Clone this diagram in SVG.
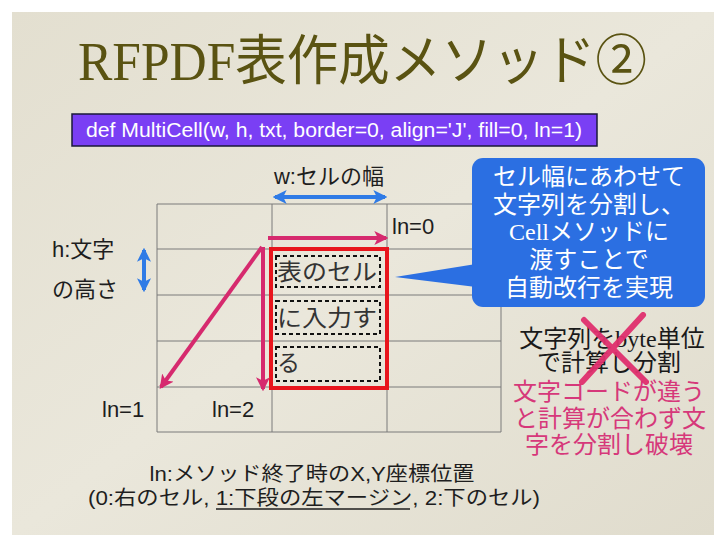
<svg xmlns="http://www.w3.org/2000/svg" width="728" height="546" viewBox="0 0 728 546">
<defs>
<style>
.sans{font-family:"Liberation Sans","Noto Sans CJK JP",sans-serif;}
.serif{font-family:"Liberation Serif","Noto Sans CJK JP",serif;}
.grid line{stroke:#7a7a7a;stroke-width:1;}
.pink{stroke:#d62a6e;stroke-width:4;fill:none;}
.blue{stroke:#2f7be6;stroke-width:4;fill:none;}
.dash{fill:none;stroke:#111;stroke-width:2;stroke-dasharray:4,3;}
.lbl{font-size:22px;fill:#1e1e1e;}
.cell{font-size:23px;fill:#333;}
</style>
<marker id="ph" viewBox="0 0 12 12" refX="10" refY="6" markerWidth="14" markerHeight="14" markerUnits="userSpaceOnUse" orient="auto">
<path d="M0,0 L12,6 L0,12 L3,6 z" fill="#d62a6e"/>
</marker>
<marker id="bh" viewBox="0 0 12 12" refX="10" refY="6" markerWidth="14" markerHeight="14" markerUnits="userSpaceOnUse" orient="auto-start-reverse">
<path d="M0,0 L12,6 L0,12 L3,6 z" fill="#2f7be6"/>
</marker>
<linearGradient id="paper" x1="0" y1="0" x2="1" y2="1">
<stop offset="0" stop-color="#e3dfd0"/>
<stop offset="0.5" stop-color="#eae7db"/>
<stop offset="1" stop-color="#e0dccd"/>
</linearGradient>
</defs>
<rect x="0" y="0" width="728" height="546" fill="#ffffff"/>
<rect x="12" y="12" width="702" height="523" fill="url(#paper)"/>

<g id="title">
<text class="serif" x="78" y="80" font-size="54" fill="#5a5312" textLength="569" lengthAdjust="spacingAndGlyphs">RFPDF表作成メソッド②</text>
</g>

<g id="code">
<rect x="72" y="114" width="525" height="32" fill="#7a3ff4" stroke="#1a1a3a" stroke-width="1.5"/>
<text class="sans" x="86" y="137" font-size="20" fill="#ffffff" textLength="496" lengthAdjust="spacingAndGlyphs">def MultiCell(w, h, txt, border=0, align='J', fill=0, ln=1)</text>
</g>

<g id="grid" class="grid">
<line x1="157" y1="204" x2="501" y2="204"/>
<line x1="157" y1="249" x2="501" y2="249"/>
<line x1="157" y1="295" x2="501" y2="295"/>
<line x1="157" y1="341" x2="501" y2="341"/>
<line x1="157" y1="387" x2="501" y2="387"/>
<line x1="157" y1="432" x2="501" y2="432"/>
<line x1="157" y1="204" x2="157" y2="432"/>
<line x1="272" y1="204" x2="272" y2="432"/>
<line x1="387" y1="204" x2="387" y2="432"/>
<line x1="501" y1="204" x2="501" y2="432"/>
</g>

<g id="cellbox">
<rect x="271" y="249" width="116" height="139" fill="none" stroke="#e8151d" stroke-width="4"/>
<rect x="276" y="256" width="104" height="31" class="dash"/>
<rect x="276" y="301" width="104" height="33" class="dash"/>
<rect x="276" y="347" width="104" height="34" class="dash"/>
<text class="serif cell" x="277" y="280" textLength="100" lengthAdjust="spacingAndGlyphs">表のセル</text>
<text class="serif cell" x="277" y="326" textLength="100" lengthAdjust="spacingAndGlyphs">に入力す</text>
<text class="serif cell" x="277" y="371">る</text>
</g>

<g id="labels">
<text class="sans lbl" x="329" y="184" text-anchor="middle">w:セルの幅</text>
<text class="sans lbl" x="392" y="234">ln=0</text>
<text class="sans lbl" x="52" y="257">h:文字</text>
<text class="sans lbl" x="52" y="297">の高さ</text>
<text class="sans lbl" x="102" y="417">ln=1</text>
<text class="sans lbl" x="212" y="417">ln=2</text>
</g>

<g id="connectors">
<line class="blue" x1="275" y1="197" x2="385" y2="197" marker-start="url(#bh)" marker-end="url(#bh)"/>
<line class="blue" x1="144" y1="250" x2="144" y2="290" marker-start="url(#bh)" marker-end="url(#bh)"/>
<line class="pink" x1="268" y1="238" x2="386" y2="238" marker-end="url(#ph)"/>
<line class="pink" x1="262" y1="247" x2="161" y2="387" marker-end="url(#ph)"/>
<line class="pink" x1="263" y1="247" x2="263" y2="389" marker-end="url(#ph)"/>
</g>

<g id="callout">
<rect x="472" y="158" width="233" height="149" rx="11" fill="#2b6fe2"/>
<polygon points="476,264 395,277 476,287" fill="#2b6fe2"/>
<g class="serif" font-size="24" fill="#ffffff" text-anchor="middle">
<text x="589" y="185">セル幅にあわせて</text>
<text x="589" y="213">文字列を分割し、</text>
<text x="589" y="240">Cellメソッドに</text>
<text x="589" y="268">渡すことで</text>
<text x="589" y="296">自動改行を実現</text>
</g>
</g>

<g id="note">
<g class="serif" font-size="24" text-anchor="middle">
<text x="612" y="347" fill="#1a1a1a">文字列をbyte単位</text>
<text x="609" y="371" fill="#1a1a1a">で計算し分割</text>
<text x="609" y="400" fill="#d6387a">文字コードが違う</text>
<text x="610" y="427" fill="#d6387a">と計算が合わず文</text>
<text x="609" y="453" fill="#d6387a">字を分割し破壊</text>
</g>
<g stroke="#e0306e" stroke-width="6" stroke-linecap="round" opacity="0.95">
<line x1="643" y1="315" x2="582" y2="382"/>
<line x1="584" y1="320" x2="646" y2="382"/>
</g>
</g>

<g id="footer">
<text class="sans" x="312" y="481" font-size="20" fill="#1e1e1e" text-anchor="middle" textLength="325" lengthAdjust="spacingAndGlyphs">ln:メソッド終了時のX,Y座標位置</text>
<text class="sans" x="314" y="505" font-size="20" fill="#1e1e1e" text-anchor="middle" textLength="452" lengthAdjust="spacingAndGlyphs">(0:右のセル, 1:下段の左マージン, 2:下のセル)</text>
<line x1="216" y1="509" x2="410" y2="509" stroke="#1e1e1e" stroke-width="1.5"/>
</g>
</svg>
